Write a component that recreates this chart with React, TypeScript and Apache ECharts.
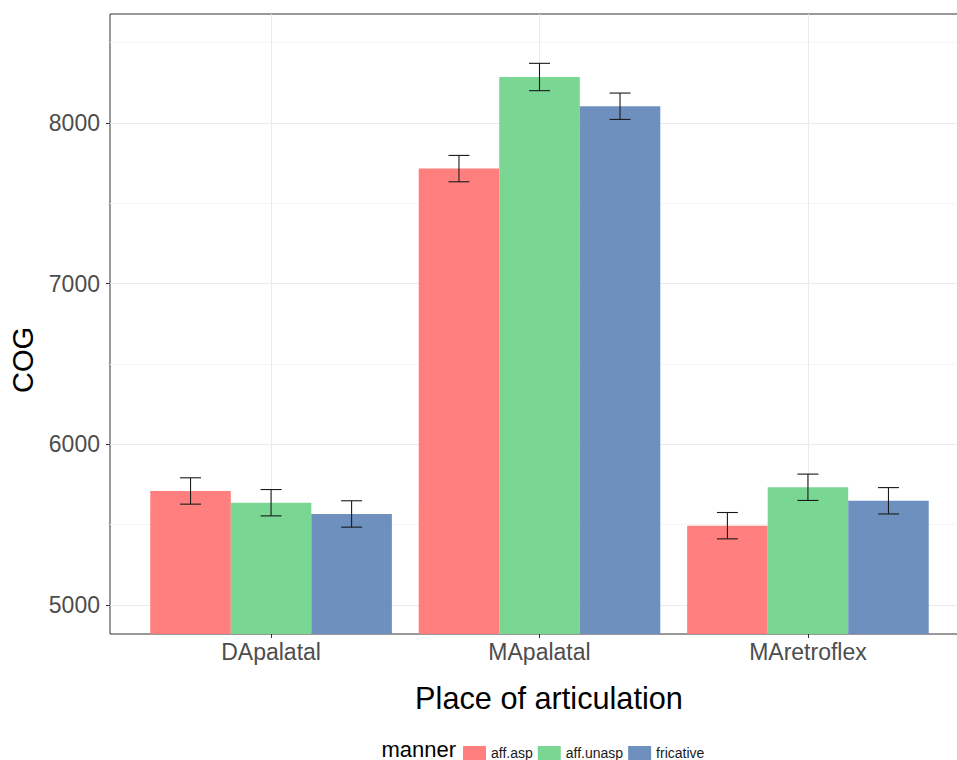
import React, { useEffect, useRef } from "react";
import * as echarts from "echarts";

const categories = ["DApalatal", "MApalatal", "MAretroflex"];
const manners = ["aff.asp", "aff.unasp", "fricative"];
const affAsp = [5710, 7716, 5494];
const affAspSe = [82, 82, 82];
const affUnasp = [5637, 8286, 5733];
const affUnaspSe = [82, 85, 82];
const fricative = [5567, 8104, 5649];
const fricativeSe = [82, 82, 82];
const yTicks = [5000, 6000, 7000, 8000];
const yMinor = [5500, 6500, 7500, 8500];
const colors = ["#FF7F7F", "#7AD693", "#6E90BF"];

const means = [affAsp, affUnasp, fricative];
const ses = [affAspSe, affUnaspSe, fricativeSe];
const FONT = "Liberation Sans, Arial, sans-serif";

export default function App() {
  const ref = useRef<HTMLDivElement>(null);
  useEffect(() => {
    if (!ref.current) return;
    const chart = echarts.init(ref.current, undefined, { renderer: "svg" });
    const barSeries = manners.map((m, i) => ({
      type: "bar",
      name: m,
      barGap: "0%",
      barCategoryGap: "10%",
      itemStyle: { color: colors[i] },
      z: 3,
      data: categories.map((_, c) => [c, means[i][c]]),
    }));
    const errSeries = manners.map((m, i) => ({
      type: "custom",
      name: m + " se",
      z: 5,
      encode: { x: 0, y: [1, 2] },
      data: categories.map((_, c) => [c, means[i][c] - ses[i][c], means[i][c] + ses[i][c]]),
      renderItem: (params: any, api: any) => {
        const xv = api.value(0);
        const lo = api.coord([xv, api.value(1)]);
        const hi = api.coord([xv, api.value(2)]);
        const band = api.size([1, 0])[0];
        const bw = (band * 0.9) / 3;
        const cx = lo[0] + (i - 1) * bw;
        const half = 10.5;
        const style = { stroke: "#1a1a1a", lineWidth: 1.1 };
        return {
          type: "group",
          children: [
            { type: "line", shape: { x1: cx, y1: lo[1], x2: cx, y2: hi[1] }, style },
            { type: "line", shape: { x1: cx - half, y1: lo[1], x2: cx + half, y2: lo[1] }, style },
            { type: "line", shape: { x1: cx - half, y1: hi[1], x2: cx + half, y2: hi[1] }, style },
          ],
        };
      },
    }));
    chart.setOption({
      animation: false,
      backgroundColor: "#ffffff",
      grid: {
        left: 110,
        right: 11,
        top: 14,
        bottom: 126,
        show: true,
        outerBoundsMode: "none",
        containLabel: false,
        borderColor: "#333333",
        borderWidth: 1,
        backgroundColor: "transparent",
      },
      legend: {
        data: manners,
        left: 463,
        top: 746,
        padding: 0,
        icon: "rect",
        itemWidth: 23,
        itemHeight: 14,
        itemGap: 5,
        selectedMode: false,
        textStyle: { fontSize: 14, lineHeight: 14, color: "#1a1a1a", fontFamily: FONT },
      },
      xAxis: {
        type: "value",
        min: -0.6,
        max: 2.6,
        name: "Place of articulation",
        nameLocation: "middle",
        nameGap: 49,
        nameTextStyle: {
          fontSize: 30.7,
          color: "#000000",
          fontFamily: FONT,
          padding: [0, 0, 0, 19],
        },
        axisLine: { show: false, onZero: false },
        axisTick: { show: true, length: 4, customValues: [0, 1, 2], lineStyle: { color: "#333333" } },
        axisLabel: {
          customValues: [0, 1, 2],
          formatter: (v: number) => categories[Math.round(v)],
          fontSize: 23,
          color: "#4D4D4D",
          margin: 6,
          fontFamily: FONT,
        },
        splitLine: { show: true, lineStyle: { color: "#EBEBEB", width: 1 } },
      },
      yAxis: [
        {
          type: "value",
          min: 4820,
          max: 8678,
          name: "COG",
          nameLocation: "middle",
          nameGap: 72,
          nameRotate: 90,
          nameTextStyle: {
            fontSize: 29,
            color: "#000000",
            fontFamily: FONT,
            padding: [0, 72, 0, 0],
          },
          axisLine: { show: false, onZero: false },
          axisTick: { show: true, length: 4, customValues: yTicks, lineStyle: { color: "#333333" } },
          axisLabel: {
            customValues: yTicks,
            formatter: (v: number) => String(v),
            fontSize: 23,
            color: "#4D4D4D",
            margin: 10,
            fontFamily: FONT,
          },
          splitLine: { show: true, lineStyle: { color: "#EBEBEB", width: 1 } },
        },
        {
          type: "value",
          min: 4820,
          max: 8678,
          position: "left",
          axisLine: { show: false, onZero: false },
          axisTick: { show: false, customValues: yMinor },
          axisLabel: { show: false, customValues: yMinor },
          splitLine: { show: true, lineStyle: { color: "#F5F5F5", width: 1 } },
        },
      ],
      graphic: [
        {
          type: "text",
          x: 456,
          y: 749,
          style: {
            text: "manner",
            fontSize: 22,
            lineHeight: 22,
            fill: "#000000",
            align: "right",
            verticalAlign: "middle",
            fontFamily: FONT,
          },
        },
      ],
      series: [...barSeries, ...errSeries],
    } as any);
    return () => chart.dispose();
  }, []);
  return (
    <div style={{ position: "absolute", left: 0, top: 0, width: 957, height: 760, overflow: "hidden", background: "#fff" }}>
      <div ref={ref} style={{ width: 980, height: 760 }} />
    </div>
  );
}
